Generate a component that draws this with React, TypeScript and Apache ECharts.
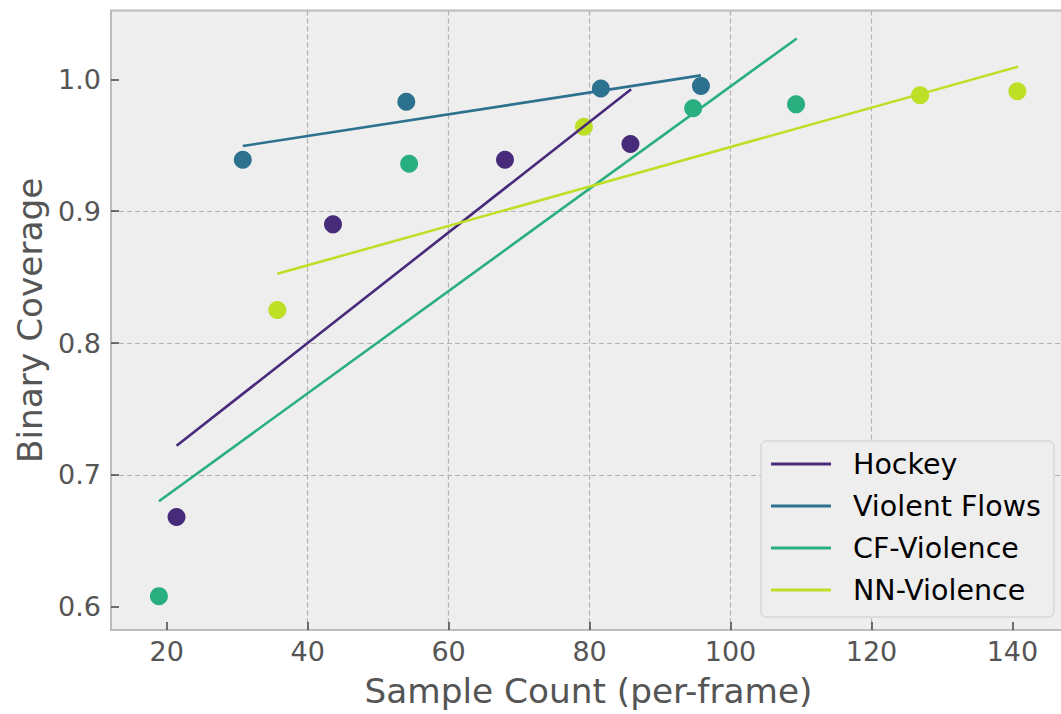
import React, { useEffect, useRef } from "react";
import * as echarts from "echarts";

// Dataset names and their viridis colours
const seriesNames = ["Hockey", "Violent Flows", "CF-Violence", "NN-Violence"];
const seriesColors = ["#472a7a", "#2c718e", "#29af7f", "#bddf26"];

// Measured (sample count, binary coverage) points per dataset
const hockeyPoints = [[21.4, 0.668], [43.6, 0.890], [68.0, 0.939], [85.8, 0.951]];
const violentFlowsPoints = [[30.8, 0.939], [54.0, 0.983], [81.6, 0.993], [95.8, 0.995]];
const cfViolencePoints = [[18.9, 0.608], [54.4, 0.936], [94.7, 0.978], [109.3, 0.981]];
const nnViolencePoints = [[35.7, 0.825], [79.2, 0.964], [126.9, 0.988], [140.7, 0.991]];

// Linear trend lines (end points) per dataset
const hockeyFit = [[21.4, 0.722], [85.9, 0.9925]];
const violentFlowsFit = [[30.8, 0.9494], [95.8, 1.003]];
const cfViolenceFit = [[18.9, 0.680], [109.4, 1.031]];
const nnViolenceFit = [[35.7, 0.8525], [140.8, 1.0096]];

// Tick values
const xTicks = [20, 40, 60, 80, 100, 120, 140];
const yTicks = [0.6, 0.7, 0.8, 0.9, 1.0];

const allPoints = [hockeyPoints, violentFlowsPoints, cfViolencePoints, nnViolencePoints];
const allFits = [hockeyFit, violentFlowsFit, cfViolenceFit, nnViolenceFit];

const FONT = "DejaVu Sans";
const labelGray = "#555555";

export default function App() {
  const ref = useRef<HTMLDivElement>(null);

  useEffect(() => {
    const chart = echarts.init(ref.current!, null, { renderer: "svg" });

    const scatterSeries = allPoints.map((pts, i) => ({
      type: "scatter",
      name: seriesNames[i],
      data: pts,
      symbol: "circle",
      symbolSize: 18,
      itemStyle: { color: seriesColors[i], opacity: 1 },
      emphasis: { disabled: true },
    }));

    const lineSeries = allFits.map((pts, i) => ({
      type: "line",
      name: seriesNames[i],
      data: pts,
      showSymbol: false,
      symbol: "none",
      color: seriesColors[i],
      lineStyle: { color: seriesColors[i], width: 2.6 },
      emphasis: { disabled: true },
    }));

    chart.setOption({
      animation: false,
      backgroundColor: "#ffffff",
      textStyle: { fontFamily: FONT },
      grid: {
        show: true,
        left: 111,
        top: 10.5,
        width: 955,
        height: 619.5,
        backgroundColor: "#eeeeee",
        borderColor: "#bcbcbc",
        borderWidth: 2,
      },
      legend: {
        data: seriesNames,
        orient: "vertical",
        left: 761,
        top: 441,
        icon: "rect",
        itemWidth: 60,
        itemHeight: 3,
        itemGap: 12,
        selectedMode: false,
        backgroundColor: "#eeeeee",
        borderColor: "#cccccc",
        borderWidth: 1,
        borderRadius: 5,
        padding: [8, 13, 12, 10],
        textStyle: {
          fontFamily: FONT,
          fontSize: 28.5,
          color: "#000000",
          lineHeight: 30,
          padding: [0, 0, 0, 17],
        },
      },
      xAxis: {
        type: "value",
        min: 12.1,
        max: 147.6,
        splitNumber: 7,
        name: "Sample Count (per-frame)",
        nameLocation: "middle",
        nameGap: 44,
        nameTextStyle: { fontFamily: FONT, fontSize: 34.3, color: labelGray },
        axisLine: { show: false },
        axisTick: {
          show: true,
          inside: true,
          length: 8,
          customValues: xTicks,
          lineStyle: { color: "#444444", width: 1.5 },
        },
        axisLabel: {
          customValues: xTicks,
          margin: 8,
          fontFamily: FONT,
          fontSize: 27,
          color: labelGray,
        },
        splitLine: {
          show: true,
          showMinLine: false,
          showMaxLine: false,
          lineStyle: { color: "#b2b2b2", width: 1.2, type: [5, 3] },
        },
      },
      yAxis: {
        type: "value",
        min: 0.58233,
        max: 1.0522,
        splitNumber: 5,
        name: "Binary Coverage",
        nameLocation: "middle",
        nameGap: 57,
        nameTextStyle: { fontFamily: FONT, fontSize: 34.3, color: labelGray },
        axisLine: { show: false },
        axisTick: {
          show: true,
          inside: true,
          length: 8,
          customValues: yTicks,
          lineStyle: { color: "#444444", width: 1.5 },
        },
        axisLabel: {
          customValues: yTicks,
          margin: 10,
          fontFamily: FONT,
          fontSize: 27,
          color: labelGray,
          formatter: (v: number) => v.toFixed(1),
        },
        splitLine: {
          show: true,
          showMinLine: false,
          showMaxLine: false,
          lineStyle: { color: "#b2b2b2", width: 1.2, type: [5, 3] },
        },
      },
      series: [...scatterSeries, ...lineSeries],
    });

    return () => chart.dispose();
  }, []);

  return (
    <div
      style={{
        position: "fixed",
        left: 0,
        top: 0,
        width: 1061,
        height: 714,
        overflow: "hidden",
        background: "#ffffff",
      }}
    >
      <div ref={ref} style={{ width: 1080, height: 714 }} />
    </div>
  );
}
